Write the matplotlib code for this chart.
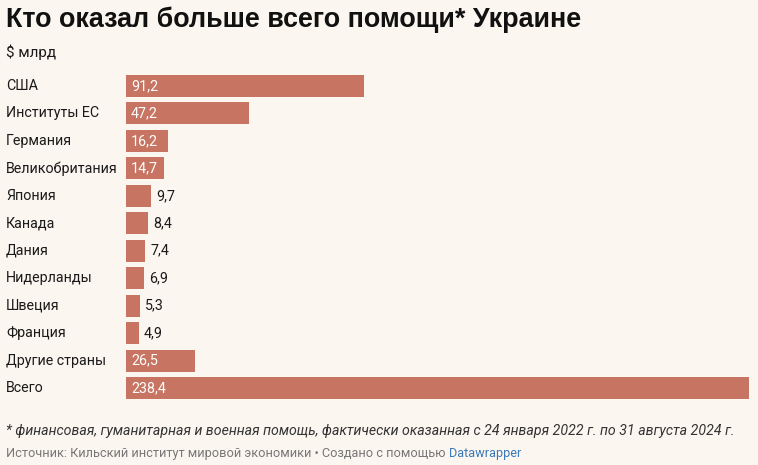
import matplotlib
matplotlib.use("Agg")
import matplotlib.pyplot as plt

categories = ["США", "Институты ЕС", "Германия", "Великобритания", "Япония", "Канада",
              "Дания", "Нидерланды", "Швеция", "Франция", "Другие страны", "Всего"]
values = [91.2, 47.2, 16.2, 14.7, 9.7, 8.4, 7.4, 6.9, 5.3, 4.9, 26.5, 238.4]

BG = "#fcf6f0"
BAR = "#c87462"
TXT = "#1a1a1a"

plt.rcParams['font.family'] = ['Roboto', 'DejaVu Sans']

W, H = 758, 465
fig = plt.figure(figsize=(W/100, H/100), dpi=100, facecolor=BG)
ax = fig.add_axes([126/W, (H-401.7)/H, (749-126)/W, 329.4/H])
ax.set_facecolor(BG)

y = list(range(len(categories)))
ax.barh(y, values, height=0.8, color=BAR)
ax.set_ylim(len(categories)-0.5, -0.5)
ax.set_xlim(0, max(values))
for s in ax.spines.values():
    s.set_visible(False)
ax.set_xticks([])
ax.set_yticks([])

for yi, (c, v) in enumerate(zip(categories, values)):
    ax.text(-120/623*max(values), yi, c, ha="left", va="center", fontsize=10.3, color=TXT)
    lab = f"{v:.1f}".replace(".", ",")
    if v > 12:
        ax.text(max(values)*5/623, yi, lab, ha="left", va="center", fontsize=10.3, color="white")
    else:
        ax.text(v + max(values)*5/623, yi, lab, ha="left", va="center", fontsize=10.3, color=TXT)

fig.text(6/W, 1-20/H, "Кто оказал больше всего помощи* Украине", fontsize=19.4, fontweight="bold",
         family=["Liberation Sans", "DejaVu Sans"], color="#111111", va="center", ha="left")
fig.text(6/W, 1-52/H, "$ млрд", fontsize=11, color=TXT, va="center", ha="left")
fig.text(6/W, 1-431/H, "* финансовая, гуманитарная и военная помощь, фактически оказанная с 24 января 2022 г. по 31 августа 2024 г.",
         fontsize=10.15, style="italic", color="#333333", va="center", ha="left")
t = fig.text(6/W, 1-453/H, "Источник: Кильский институт мировой экономики • Создано с помощью ",
             fontsize=9.2, color="#777777", va="center", ha="left")
fig.canvas.draw()
bb = t.get_window_extent()
fig.text(bb.x1/W, 1-453/H, "Datawrapper", fontsize=9.2, color="#3a7ab8", va="center", ha="left")

fig.savefig("out.png", dpi=100, facecolor=BG)
